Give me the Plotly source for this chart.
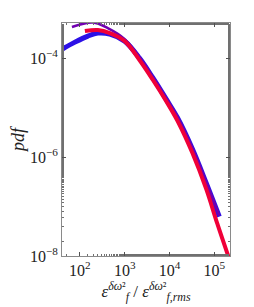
import plotly.graph_objects as go

# Values, as log10(x) and log10(pdf)
red_x = [2.111, 2.400, 2.667, 3.000, 3.333, 3.622, 3.933, 4.178, 4.511, 4.822, 5.067, 5.333]
red_y = [-3.449, -3.429, -3.490, -3.653, -4.041, -4.429, -4.878, -5.265, -5.918, -6.653, -7.347, -8.060]

blue_x = [1.600, 1.889, 2.178, 2.400, 2.667, 3.000, 3.333, 3.622, 3.933, 4.178, 4.511, 4.822, 5.111]
blue_y = [-3.816, -3.673, -3.551, -3.490, -3.510, -3.653, -4.000, -4.388, -4.837, -5.204, -5.837, -6.531, -7.204]

purple_x = [1.822, 2.289, 2.622, 3.000, 3.333, 3.622, 3.933, 4.178, 4.511, 4.822, 5.111]
purple_y = [-3.367, -3.275, -3.388, -3.612, -3.980, -4.367, -4.816, -5.184, -5.816, -6.510, -7.184]

ytick_vals = [1e-8, 1e-6, 1e-4]
ytick_text = ["10<sup>−8</sup>", "10<sup>−6</sup>", "10<sup>−4</sup>"]
xtick_vals = [1e2, 1e3, 1e4, 1e5]
xtick_text = ["10<sup>2</sup>", "10<sup>3</sup>", "10<sup>4</sup>", "10<sup>5</sup>"]


def p(v):
    return [10 ** a for a in v]


fig = go.Figure()
fig.add_trace(go.Scatter(x=p(blue_x), y=p(blue_y), mode="lines",
                         line=dict(color="#2c10e6", width=5, shape="spline"), showlegend=False))
fig.add_trace(go.Scatter(x=p(purple_x), y=p(purple_y), mode="lines",
                         line=dict(color="#7000b0", width=2.5, shape="spline"), showlegend=False))
fig.add_trace(go.Scatter(x=p(red_x), y=p(red_y), mode="lines",
                         line=dict(color="#f00038", width=4, shape="spline"), showlegend=False))

axis_common = dict(showgrid=False, zeroline=False, showline=True, linecolor="#8a8a8a",
                   linewidth=1, mirror="ticks", ticks="inside", ticklen=4, tickcolor="#505050",
                   automargin=False,
                   tickfont=dict(family="Liberation Serif", size=16, color="#222"))

fig.update_xaxes(type="log", range=[1.6, 5.35], tickvals=xtick_vals, ticktext=xtick_text,
                 title=dict(text="<i>ε</i><sup><i>δω</i>²</sup><sub><i>f</i></sub> / <i>ε</i><sup><i>δω</i>²</sup><sub><i>f,rms</i></sub>",
                            font=dict(family="Liberation Serif", size=17, color="#222"), standoff=6),
                 minor=dict(ticks="inside", ticklen=2, tickcolor="#707070", showgrid=False),
                 **axis_common)
fig.update_yaxes(type="log", range=[-8.0, -3.286], tickvals=ytick_vals, ticktext=ytick_text,
                 title=dict(text="<i>pdf</i>", font=dict(family="Liberation Serif", size=18, color="#222"), standoff=4),
                 minor=dict(ticks="inside", ticklen=2, tickcolor="#707070", showgrid=False),
                 **axis_common)

# page body has an 8px default margin: compensate so the plot area sits at 62..230 x 23..256
fig.update_layout(width=246, height=299, margin=dict(l=54, r=24, t=15, b=51),
                  paper_bgcolor="white", plot_bgcolor="white")
fig.write_html("out.html")
